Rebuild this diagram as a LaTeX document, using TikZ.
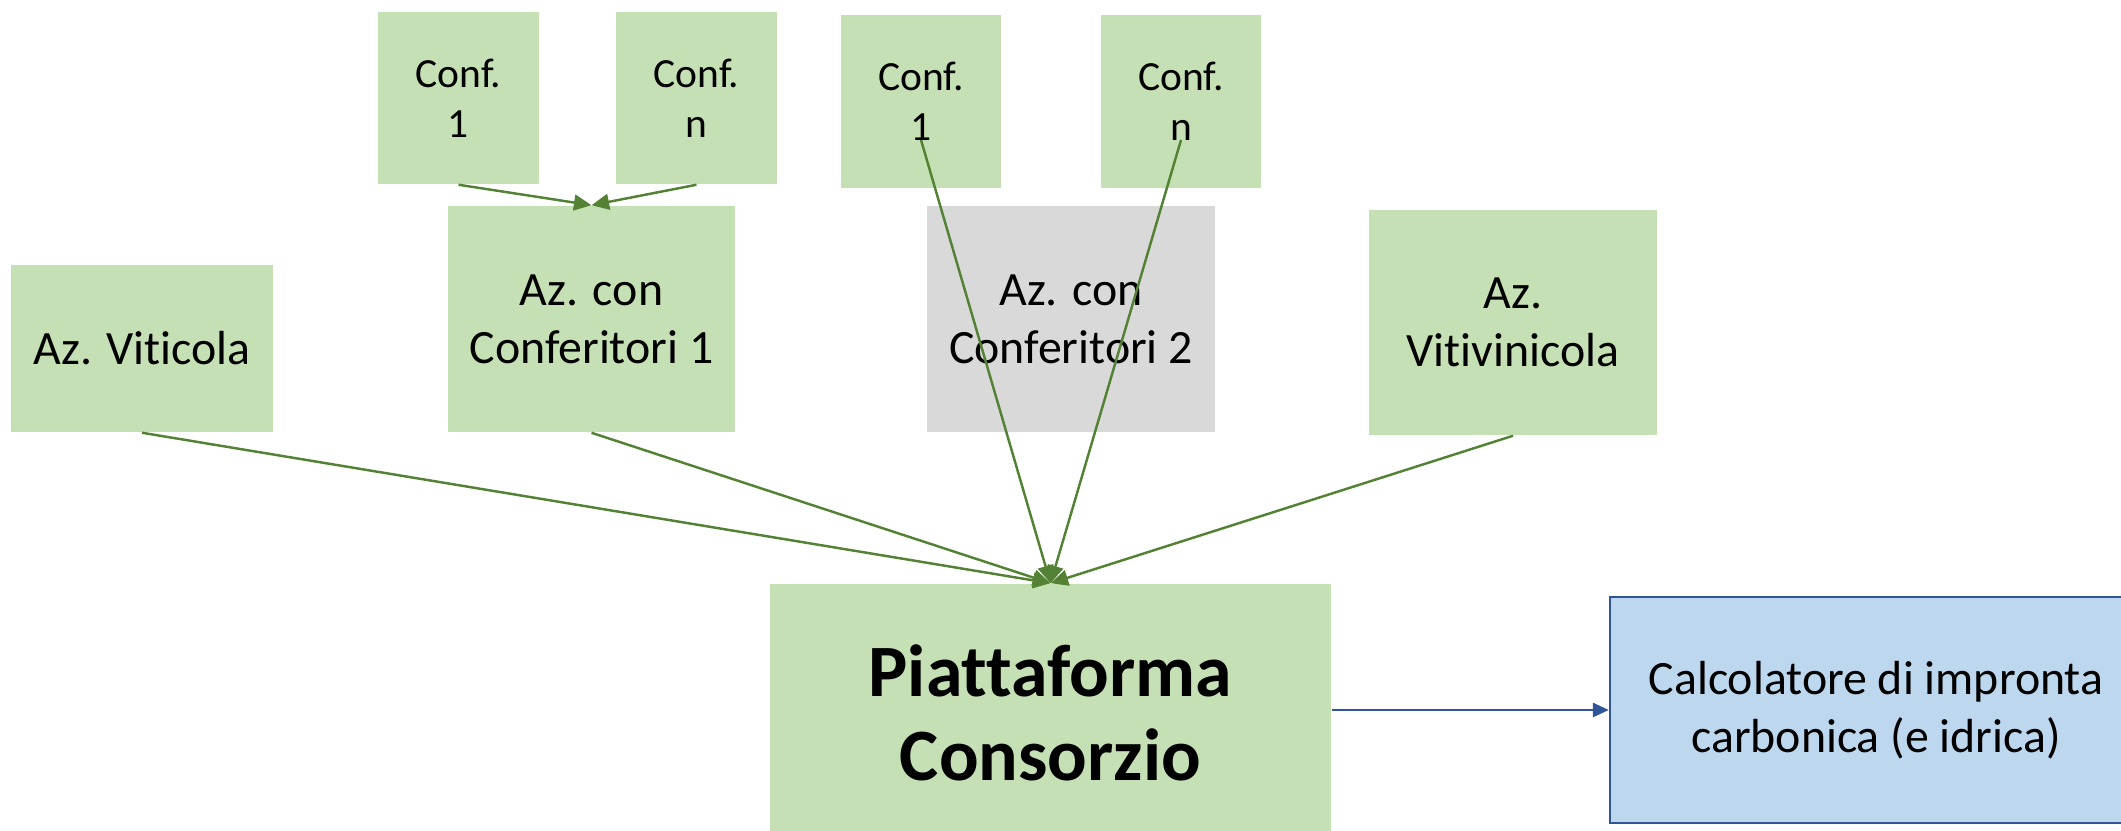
\documentclass[tikz,border=0pt]{standalone}
\usepackage{fontspec}
\setmainfont{Carlito}[Ligatures=CommonOff]
\usetikzlibrary{arrows.meta}
\definecolor{verdino}{RGB}{197,224,180}
\definecolor{grigio}{RGB}{217,217,217}
\definecolor{azzurro}{RGB}{189,215,238}
\definecolor{bordoblu}{RGB}{47,85,151}
\definecolor{verdescuro}{RGB}{84,130,53}

\begin{document}
\begin{tikzpicture}[x=0.01cm, y=-0.01cm,
  box/.style={fill=verdino, inner sep=0pt, align=center, font=\fontsize{13.6}{16.5}\selectfont},
  confbox/.style={box, minimum width=1.6cm, minimum height=1.72cm, font=\fontsize{11.8}{14.2}\selectfont},
  flusso/.style={draw=verdescuro, line width=0.7pt, -{Triangle[length=5pt,width=4.5pt]}}]

  \useasboundingbox (0,0) rectangle (2121,831);
  \clip (0,0) rectangle (2121,831);

  \newcommand{\mkconf}[4]{
    \node[confbox] (#1) at (#2,#3) {Conf.\\#4};
  }

  %aziende
  \node[box, minimum width=2.62cm, minimum height=1.67cm] (viticola) at (142,348.5) {Az. Viticola};
  \node[box, minimum width=2.87cm, minimum height=2.26cm] (conf1) at (591.5,319) {Az. con\\Conferitori 1};
  \node[box, fill=grigio, minimum width=2.88cm, minimum height=2.26cm] (conf2) at (1071,319) {Az. con\\Conferitori 2};
  \node[box, minimum width=2.88cm, minimum height=2.25cm] (vitivin) at (1513,322.5) {Az.\\Vitivinicola};

  %conferitori
  \mkconf{cA1}{458.5}{98}{1}
  \mkconf{cAn}{696.5}{98}{n}
  \mkconf{cB1}{921}{101.5}{1}
  \mkconf{cBn}{1181}{101.5}{n}

  %piattaforma e calcolatore
  \node[box, minimum width=5.61cm, minimum height=2.58cm, font=\fontsize{21}{23.9}\selectfont\bfseries] (piatt) at (1050.5,713) {Piattaforma\\Consorzio};
  \node[box, fill=azzurro, draw=bordoblu, line width=0.6pt, minimum width=5.32cm, minimum height=2.26cm] (calc) at (1876,710) {Calcolatore di impronta\\carbonica (e idrica)};

  %frecce verso Az. con Conferitori 1
  \draw[flusso] (cA1.south) -- (conf1.north);
  \draw[flusso] (cAn.south) -- (conf1.north);

  %frecce verso la piattaforma
  \coordinate (cB1-p) at ([yshift=-0.385cm]cB1.center);
  \coordinate (cBn-p) at ([yshift=-0.385cm]cBn.center);
  \draw[flusso] (viticola.south) -- (piatt.north);
  \draw[flusso] (conf1.south) -- (piatt.north);
  \draw[flusso] (cB1-p) -- (piatt.north);
  \draw[flusso] (cBn-p) -- (piatt.north);
  \draw[flusso] (vitivin.south) -- (piatt.north);

  \draw[draw=bordoblu, line width=0.6pt, -{Triangle[length=4.5pt,width=4pt]}] (piatt.east |- calc.west) -- (calc.west);

\end{tikzpicture}
\end{document}
